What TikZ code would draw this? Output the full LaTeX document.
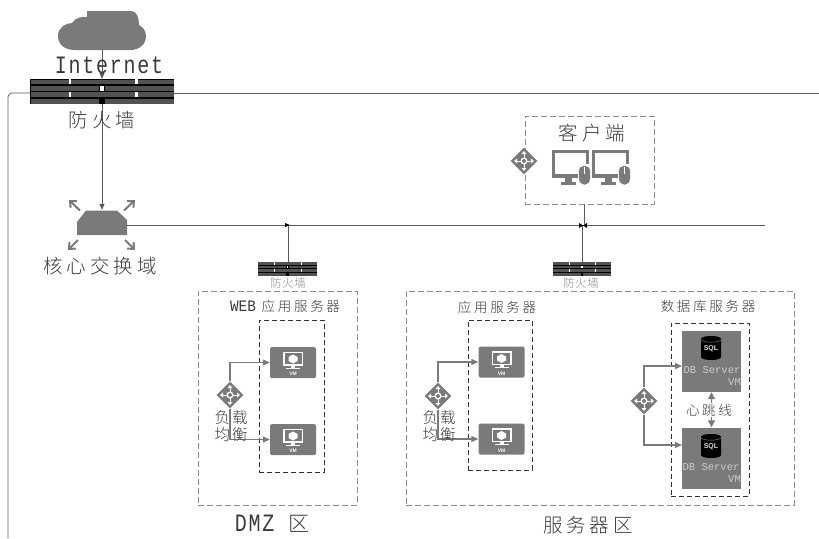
\documentclass[tikz,border=0pt]{standalone}
\usepackage{fontspec}
\usetikzlibrary{arrows.meta,shapes.geometric}
\setmonofont{Liberation Mono}
\setsansfont{Liberation Sans}
\newfontfamily\cjk{Noto Sans CJK SC Light}
\definecolor{iconfill}{HTML}{7A7A7A}
\definecolor{linegray}{HTML}{5A5A5A}
\definecolor{dashgray}{HTML}{8C8C8C}
\definecolor{inkgray}{HTML}{3A3A3A}
\newcommand{\fsz}[1]{\fontsize{#1}{#1}\selectfont}
\newcommand{\txtf}[2]{\cjk\fsz{#1}\addfontfeature{LetterSpace=#2}}
\tikzset{
  x=1pt,y=-1pt,
  conn/.style={draw=linegray,line width=0.7pt},
  arr/.style={conn,-{Triangle[length=6pt,width=5pt]}},
  garr/.style={draw=iconfill,line width=1.2pt,-{Triangle[length=7pt,width=6pt]}},
  lblbig/.style={inner sep=0pt,text=inkgray,font=\txtf{19.5}{20}},
  lblmid/.style={inner sep=0pt,text=inkgray,font=\txtf{13.5}{20}},
  lblsmall/.style={inner sep=0pt,text=dashgray,font=\txtf{11.5}{5}},
  lbltwo/.style={inner sep=0pt,text=inkgray,align=center,font=\txtf{15.5}{5}},
  zone/.style={draw=dashgray,dash pattern=on 6pt off 3pt,line width=0.9pt},
  inner/.style={draw=black!80,dash pattern=on 5pt off 3pt,line width=0.9pt},
  fwbox/.style={draw=none,inner sep=0pt},
  vmbox/.style={fill=iconfill,rounded corners=1.5pt,inner sep=0pt,minimum width=46pt,minimum height=31pt},
  dbbox/.style={fill=iconfill,inner sep=0pt,minimum width=59pt,minimum height=61pt},
  dia/.style={diamond,fill=iconfill,inner sep=0pt,minimum width=27pt,minimum height=27pt,aspect=1},
  sw/.style={inner sep=0pt,minimum width=50pt,minimum height=25pt},
  swarr/.style={draw=iconfill,line width=2pt,-{Straight Barb[length=5pt,width=9pt]}},
  latinbig/.style={inner sep=0pt,text=inkgray,font=\ttfamily\fsz{25}\addfontfeature{FakeStretch=0.8,LetterSpace=7}},
  dbtext/.style={inner sep=0pt,text=white!80!black,font=\ttfamily\fsz{10.5}},
  fwrows/.pic={
    \fill[black] (-72,-12.5) rectangle (72,12.5);
    \fill[fwdark] (-71.5,-12) rectangle (-33,-7.5);
    \fill[fwdark] (-31.5,-12) rectangle (33,-7.5);
    \fill[fwdark] (35,-12) rectangle (71.5,-7.5);
    \fill[fwdark] (-71.5,-6) rectangle (-3,-1);
    \fill[fwdark] (3,-6) rectangle (71.5,-1);
    \fill[fwdark] (-71.5,0.5) rectangle (-33,5.5);
    \fill[fwdark] (-31.5,0.5) rectangle (33,5.5);
    \fill[fwdark] (35,0.5) rectangle (71.5,5.5);
    \fill[fwdark] (-71.5,7) rectangle (-3,12);
    \fill[fwdark] (3,7) rectangle (71.5,12);
    \fill[white] (-33.5,-12.5) rectangle (-31,-7.5);
    \fill[white] (33,-12.5) rectangle (35.5,-7.5);
    \fill[white] (-33.5,0) rectangle (-31,5.5);
    \fill[white] (33,0) rectangle (35.5,5.5);
    \fill[white] (-2,-6) rectangle (2,-1);
  },
  vmicon/.pic={
    \fill[white] (-10,-11) rectangle (10,3);
    \fill[iconfill] (-8.5,-9.5) rectangle (8.5,1.5);
    \fill[white] (0,-8) -- (4.5,-5.5) -- (4.5,-1.5) -- (0,1) -- (-4.5,-1.5) -- (-4.5,-5.5) -- cycle;
    \fill[white] (-2,3) rectangle (2,5);
    \fill[white] (-7,5) rectangle (7,6.4);
    \node[inner sep=0pt,text=white,font=\sffamily\bfseries\fsz{5}] at (0,11.5) {VM};
  },
  diaicon/.pic={
    \draw[white,line width=0.9pt] (-8,0) -- (8,0) (0,-8) -- (0,8);
    \fill[white] (0,0) circle (3.5);
    \fill[iconfill] (0,0) circle (2);
    \fill[white] (-10,0) -- (-7,-2.5) -- (-7,2.5) -- cycle;
    \fill[white] (10,0) -- (7,-2.5) -- (7,2.5) -- cycle;
    \fill[white] (0,-10) -- (-2.5,-7) -- (2.5,-7) -- cycle;
    \fill[white] (0,10) -- (-2.5,7) -- (2.5,7) -- cycle;
  },
  sqlicon/.pic={
    \fill[black] (-10,-9) .. controls (-10,-13) and (10,-13) .. (10,-9) -- (10,9) .. controls (10,13) and (-10,13) .. (-10,9) -- cycle;
    \draw[iconfill,line width=0.5pt] (-10,-8) .. controls (-6,-5) and (6,-5) .. (10,-8);
    \node[inner sep=0pt,text=white!85!black,font=\sffamily\bfseries\fsz{7}] at (0,1) {SQL};
  },
  pcicon/.pic={
    \draw[iconfill,line width=3pt] (-14,27) -- (-14,2.5) -- (20,2.5) -- (20,15);
    \fill[iconfill] (-15.5,25) rectangle (11,28.5);
    \fill[iconfill] (-2,28) rectangle (5,33);
    \fill[iconfill] (-6,33) rectangle (9,36);
    \fill[iconfill] (12,22) .. controls (12,15) and (23,15) .. (23,22) -- (23,29) .. controls (23,38) and (12,38) .. (12,29) -- cycle;
    \draw[white,line width=0.8pt] (17.5,18) -- (17.5,25);
  }
}
\colorlet{fwdark}{black!68}
\begin{document}
\begin{tikzpicture}
\useasboundingbox (0,0) rectangle (819,538);
% cloud
\fill[iconfill] (75,50) .. controls (64,50) and (58,44) .. (58,36)
  .. controls (58,28) and (65,23) .. (72,23)
  .. controls (75,18) and (82,16) .. (87,17) -- (87,11) -- (131,11)
  .. controls (137,11) and (139,18) .. (139,25)
  .. controls (143,27) and (146,31) .. (146,36)
  .. controls (146,44) and (140,50) .. (130,50) -- cycle;
\coordinate (cloudb) at (102,50);
% firewalls
\node[fwbox,minimum width=144pt,minimum height=25pt] (fwa) at (102,91.5) {};
\pic at (fwa.center) {fwrows};
\node[fwbox,minimum width=59pt,minimum height=14pt] (fwb) at (287.5,269) {};
\pic[xscale=0.41,yscale=0.56] at (fwb.center) {fwrows};
\node[fwbox,minimum width=58pt,minimum height=14pt] (fwc) at (582,269) {};
\pic[xscale=0.403,yscale=0.56] at (fwc.center) {fwrows};
% frame
\coordinate (framel) at (30,93);
\coordinate (framer) at (174,93);
\coordinate (framebot) at (8,538);
\coordinate (frameend) at (819,93);
\draw[conn,rounded corners=4pt] (framel) -- (8,93) -- (framebot);
\draw[conn] (framer) -- (frameend);
% core switch
\node[sw] (core) at (102,222.5) {};
\fill[iconfill] (77,235) -- (77,222) -- (86,210.5) -- (117,210.5) -- (127,220) -- (127,235) -- cycle;
\draw[swarr] (80,210.5) -- (69,200);
\draw[swarr] (124,210.5) -- (135,200);
\draw[swarr] (78,240) -- (68,250);
\draw[swarr] (125,240) -- (135,250);
% connectors top
\draw[arr] (cloudb) -- (fwa.north);
\draw[arr] (fwa.south) -- (core.north);
\coordinate (busend) at (765,225);
\coordinate (j1) at (288,225);
\coordinate (j2) at (582,225);
\draw[conn] (core.east |- busend) -- (busend);
\draw[conn] (j1) -- (fwb.north -| j1);
\draw[conn] (j2) -- (fwc.north);
\fill[black] (285,223) -- (290,225) -- (285,227) -- cycle;
\fill[black] (579,223) -- (583,225.5) -- (587,223) -- (587,228) -- (583,225.5) -- (579,228) -- cycle;
% texts top
\node[latinbig] at (109,65.5) {Internet};
\node[lblbig] at (102,120) {防火墙};
\node[lblbig] at (100,266) {核心交换域};
\node[lblsmall] at (288,283) {防火墙};
\node[lblsmall] at (581,283) {防火墙};
% client
\node[zone,minimum width=129pt,minimum height=88pt,inner sep=0pt] (client) at (589.5,160) {};
\node[lblbig] at (592,133) {客户端};
\pic at (567,149) {pcicon};
\pic at (607,149) {pcicon};
\coordinate (cj) at (584,225);
\draw[conn] (client.south -| cj) -- (cj);
\node[dia] (dc) at (524,161) {};
\pic at (dc.center) {diaicon};
% zones
\node[zone,minimum width=159pt,minimum height=214pt,inner sep=0pt] (dmz) at (277.5,398) {};
\node[latinbig] at (272,524) {DMZ {\cjk\fsz{21}区}};
\node[zone,minimum width=388pt,minimum height=214pt,inner sep=0pt] (srv) at (600,398) {};
\node[lblbig] at (588,525) {服务器区};
\node[lblmid] at (285,306) {{\ttfamily\fsz{16}\addfontfeature{FakeStretch=0.9}WEB} 应用服务器};
\node[lblmid] at (497,307) {应用服务器};
\node[lblmid] at (708,306) {数据库服务器};
% inner boxes
\node[inner,minimum width=65pt,minimum height=152pt,inner sep=0pt] (ia) at (291.5,396) {};
\node[inner,minimum width=64pt,minimum height=150pt,inner sep=0pt] (ib) at (500,395) {};
\node[inner,minimum width=78pt,minimum height=173pt,inner sep=0pt] (ic) at (710,409.5) {};
% VMs
\node[vmbox] (v1) at (293,362.5) {};
\node[vmbox] (v2) at (293,439.5) {};
\node[vmbox] (v3) at (501.5,362) {};
\node[vmbox] (v4) at (501.5,439) {};
\pic at (v1.center) {vmicon};
\pic at (v2.center) {vmicon};
\pic at (v3.center) {vmicon};
\pic at (v4.center) {vmicon};
% load balancers
\node[dia] (d1) at (230,395) {};
\node[dia] (d2) at (438,396) {};
\node[dia] (d3) at (644,401) {};
\draw[garr] (d1.north) |- (v1.west);
\draw[garr] (d1.south) |- (v2.west);
\draw[garr] (d2.north) |- (v3.west);
\draw[garr] (d2.south) |- (v4.west);
\pic at (d1.center) {diaicon};
\pic at (d2.center) {diaicon};
\pic at (d3.center) {diaicon};
\node[lbltwo] at (231,426) {负\hspace{2pt}载\\[1.5pt]均\hspace{2pt}衡};
\node[lbltwo] at (439,426) {负\hspace{2pt}载\\[1.5pt]均\hspace{2pt}衡};
% DB
\node[dbbox] (db1) at (711.5,361.5) {};
\node[dbbox] (db2) at (711.5,458) {};
\coordinate (db1w) at (682,366);
\coordinate (db2w) at (682,445);
\draw[garr] (d3.north) |- (db1w);
\draw[garr] (d3.south) |- (db2w);
\draw[draw=iconfill,line width=1.2pt,{Triangle[length=7pt,width=7pt]}-{Triangle[length=7pt,width=7pt]}] (db1.south) -- (db2.north);
\fill[white] (685,403) rectangle (735,417);
\node[inner sep=0pt,text=inkgray,font=\txtf{13.5}{20}] at (709,410) {心跳线};
\pic at (711,348) {sqlicon};
\pic at (711,446) {sqlicon};
\node[dbtext] at (712,370) {DB Server};
\node[dbtext,anchor=east] at (741,382) {VM};
\node[dbtext] at (711,467) {DB Server};
\node[dbtext,anchor=east] at (741,479) {VM};
\end{tikzpicture}
\end{document}
